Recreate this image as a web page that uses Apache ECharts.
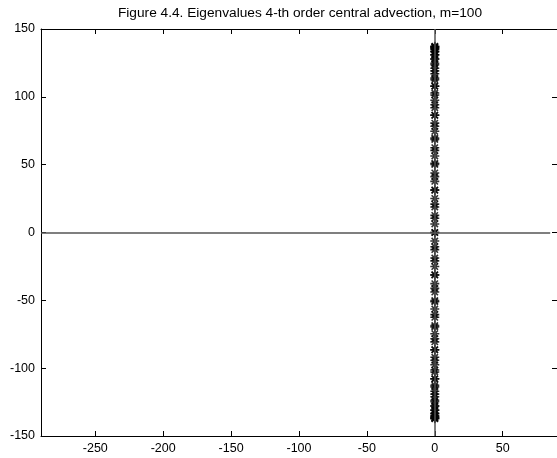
<!DOCTYPE html>
<html>
<head>
<meta charset="utf-8">
<script src="https://cdn.jsdelivr.net/npm/echarts@6/dist/echarts.min.js"></script>
<style>
  html, body { margin: 0; padding: 0; background: #fff; }
  #chart { width: 557px; height: 458px; }
</style>
</head>
<body>
<div id="chart"></div>
<script>
// Eigenvalues of the 4th-order central advection operator, m = 100
const realParts = [
  0, 0, 0, 0, 0, 0, 0, 0, 0, 0,
  0, 0, 0, 0, 0, 0, 0, 0, 0, 0,
  0, 0, 0, 0, 0, 0, 0, 0, 0, 0,
  0, 0, 0, 0, 0, 0, 0, 0, 0, 0,
  0, 0, 0, 0, 0, 0, 0, 0, 0, 0,
  0, 0, 0, 0, 0, 0, 0, 0, 0, 0,
  0, 0, 0, 0, 0, 0, 0, 0, 0, 0,
  0, 0, 0, 0, 0, 0, 0, 0, 0, 0,
  0, 0, 0, 0, 0, 0, 0, 0, 0, 0,
  0, 0, 0, 0, 0, 0, 0, 0, 0, 0
];
const imagParts = [
  0, 6.3, 12.6, 18.8, 25.1, 31.4, 37.7, 43.9, 50.2, 56.4,
  62.5, 68.6, 74.6, 80.6, 86.4, 92.0, 97.5, 102.8, 107.8, 112.6,
  117.0, 121.1, 124.8, 128.1, 131.0, 133.3, 135.2, 136.4, 137.1, 137.2,
  136.6, 135.4, 133.5, 130.9, 127.7, 123.7, 119.1, 113.8, 107.9, 101.4,
  94.2, 86.5, 78.3, 69.6, 60.5, 51.0, 41.2, 31.1, 20.9, 10.5,
  0, -10.5, -20.9, -31.1, -41.2, -51.0, -60.5, -69.6, -78.3, -86.5,
  -94.2, -101.4, -107.9, -113.8, -119.1, -123.7, -127.7, -130.9, -133.5, -135.4,
  -136.6, -137.2, -137.1, -136.4, -135.2, -133.3, -131.0, -128.1, -124.8, -121.1,
  -117.0, -112.6, -107.8, -102.8, -97.5, -92.0, -86.4, -80.6, -74.6, -68.6,
  -62.5, -56.4, -50.2, -43.9, -37.7, -31.4, -25.1, -18.8, -12.6, -6.3
];
const xTicks = [-250, -200, -150, -100, -50, 0, 50];
const yTicks = [-150, -100, -50, 0, 50, 100, 150];
const xRange = [-290, 90];
const yRange = [-150, 150];
// extent of the real-axis reference line
const realAxisSpan = [-290, 85];
const titleText = 'Figure 4.4. Eigenvalues 4-th order central advection, m=100';

const points = imagParts.map((v, i) => [realParts[i], v]);

// eight-armed asterisk marker
const asterisk = 'path://M0,-1L0,1M-1,0L1,0M-0.7071,-0.7071L0.7071,0.7071M-0.7071,0.7071L0.7071,-0.7071';

const font = 'Liberation Sans, Arial, Helvetica, sans-serif';

function boxAxis(pos, ticks, range, labels) {
  return {
    type: 'value',
    position: pos,
    min: range[0],
    max: range[1],
    splitLine: { show: false },
    axisLine: { show: true, onZero: false, lineStyle: { color: '#000', width: 1 } },
    axisTick: { show: true, inside: true, length: 5, customValues: ticks, lineStyle: { color: '#000' } },
    axisLabel: labels
      ? { show: true, customValues: ticks, color: '#000', fontFamily: font, fontSize: 12.5, margin: 6 }
      : { show: false }
  };
}

const chart = echarts.init(document.getElementById('chart'), null, { renderer: 'canvas' });
chart.setOption({
  animation: false,
  backgroundColor: '#fff',
  title: {
    text: titleText,
    left: 295,
    textAlign: 'center',
    top: 1,
    textStyle: { fontFamily: font, fontSize: 13.7, fontWeight: 'normal', color: '#000' }
  },
  grid: { left: 41, right: -1, top: 29, bottom: 22, containLabel: false },
  xAxis: [boxAxis('bottom', xTicks, xRange, true), boxAxis('top', xTicks, xRange, false)],
  yAxis: [boxAxis('left', yTicks, yRange, true), boxAxis('right', yTicks, yRange, false)],
  series: [
    {
      type: 'line',
      data: [],
      silent: true,
      z: 1,
      markLine: {
        silent: true,
        symbol: 'none',
        label: { show: false },
        lineStyle: { color: '#555', width: 1.5, type: 'solid' },
        data: [
          { xAxis: 0 },
          [{ coord: [realAxisSpan[0], 0] }, { coord: [realAxisSpan[1], 0] }]
        ]
      }
    },
    {
      type: 'scatter',
      data: points,
      z: 3,
      symbol: asterisk,
      symbolSize: 9,
      itemStyle: { color: 'none', borderColor: '#000', borderWidth: 1.6 }
    }
  ]
});
</script>
</body>
</html>
